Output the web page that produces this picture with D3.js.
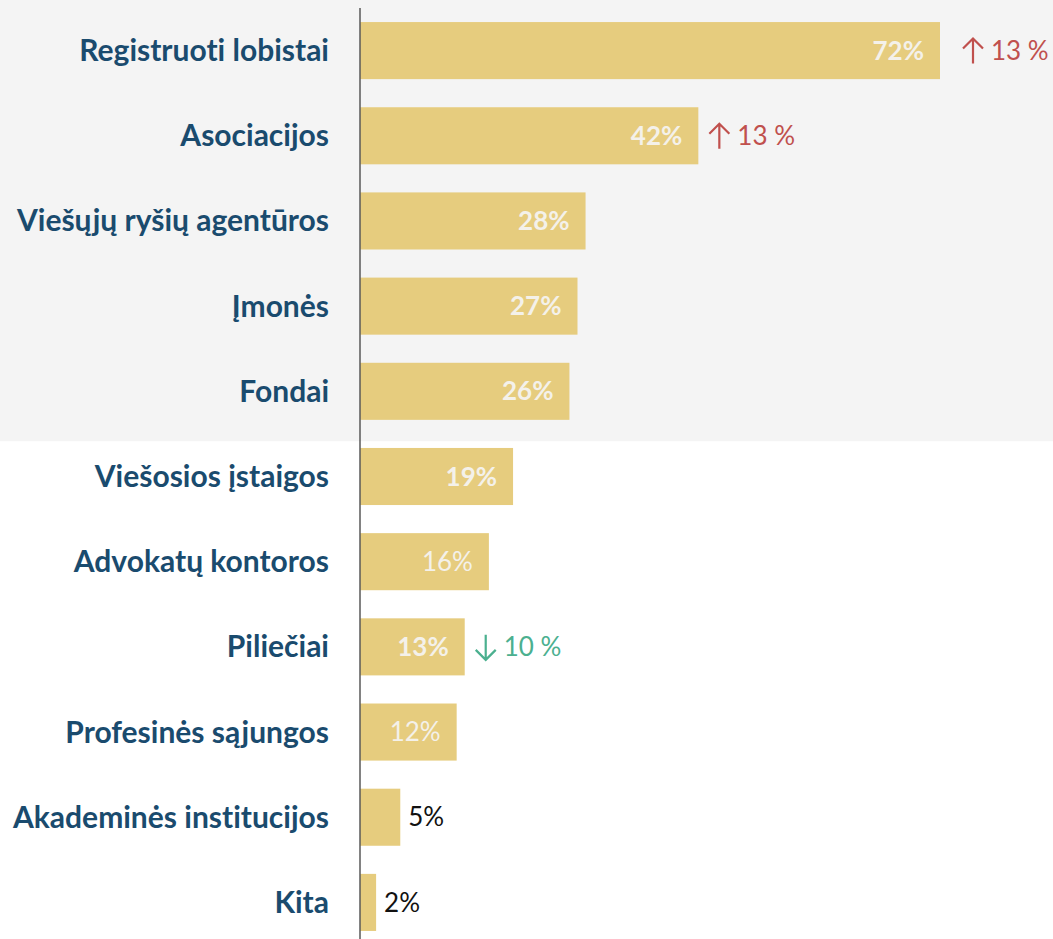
<!DOCTYPE html>
<head>
<meta charset="utf-8">
<style>
body { margin: 0; background: #fff; }
svg { display: block; }
text { font-variant-ligatures: none; font-feature-settings: "liga" 0; }
.cat { font-family: Lato, "Open Sans", sans-serif; font-weight: 700; fill: #1a4b6e; text-anchor: end; }
.pct { font-family: Lato, "Open Sans", sans-serif; }
.delta { font-family: Lato, "Open Sans", sans-serif; }
</style>
</head>
<body>
<svg width="1053" height="939"></svg>
<script src="https://cdn.jsdelivr.net/npm/d3@7"></script>
<script>

var categories = ["Registruoti lobistai", "Asociacijos", "Viešųjų ryšių agentūros", "Įmonės", "Fondai",
                  "Viešosios įstaigos", "Advokatų kontoros", "Piliečiai", "Profesinės sąjungos",
                  "Akademinės institucijos", "Kita"];
var values = [72, 42, 28, 27, 26, 19, 16, 13, 12, 5, 2];
var boldLabels = [true, true, true, true, true, true, false, true, false, false, false];
var highlighted = ["Registruoti lobistai", "Asociacijos", "Viešųjų ryšių agentūros", "Įmonės", "Fondai"];

// change annotations
var deltaCats = ["Registruoti lobistai", "Asociacijos", "Piliečiai"];
var deltaValues = [13, 13, 10];
var deltaDirs = ["up", "up", "down"];

var svg = d3.select("svg"),
    width = +svg.attr("width"),
    height = +svg.attr("height");

var x = d3.scaleLinear()
    .domain([0, 72])
    .range([360, 940]);

var y = d3.scaleBand()
    .domain(categories)
    .range([8, 945])
    .paddingInner(0.33)
    .paddingOuter(0.165);

var gap = y.step() - y.bandwidth();

// grey panel behind the top group
var lastHi = highlighted[highlighted.length - 1];
svg.append("rect")
    .attr("x", 0).attr("y", 0)
    .attr("width", width)
    .attr("height", y(lastHi) + y.bandwidth() + gap * 0.76)
    .attr("fill", "#f4f4f4");

svg.selectAll("rect.bar")
  .data(values)
  .enter().append("rect")
    .attr("class", "bar")
    .attr("x", x(0))
    .attr("y", function(d, i) { return y(categories[i]); })
    .attr("width", function(d) { return x(d) - x(0); })
    .attr("height", y.bandwidth())
    .attr("fill", "#e6cc7e");

// axis line
svg.append("line")
    .attr("x1", x(0)).attr("x2", x(0))
    .attr("y1", 8).attr("y2", height)
    .attr("stroke", "#595959")
    .attr("stroke-width", 1.5);

svg.selectAll("text.cat")
  .data(categories)
  .enter().append("text")
    .attr("class", "cat")
    .attr("x", x(0) - 31)
    .attr("y", function(d) { return y(d) + y.bandwidth() / 2; })
    .attr("dy", "0.35em")
    .style("font-size", "30px")
    .text(function(d) { return d; });

svg.selectAll("text.pct")
  .data(values)
  .enter().append("text")
    .attr("class", "pct")
    .attr("x", function(d) { return d >= 10 ? x(d) - 16 : x(d) + 8; })
    .attr("y", function(d, i) { return y(categories[i]) + y.bandwidth() / 2; })
    .attr("dy", "0.35em")
    .attr("text-anchor", function(d) { return d >= 10 ? "end" : "start"; })
    .style("font-size", "26px")
    .style("font-weight", function(d, i) { return boldLabels[i] ? 700 : 400; })
    .attr("fill", function(d) { return d >= 10 ? "#f4f1ea" : "#111"; })
    .text(function(d) { return d + "%"; });

var deltas = deltaCats.map(function(c, i) {
  return { cat: c, value: deltaValues[i], dir: deltaDirs[i], v: values[categories.indexOf(c)] };
});

var dg = svg.selectAll("g.delta")
  .data(deltas)
  .enter().append("g")
    .attr("class", "delta")
    .attr("transform", function(d, i) {
      return "translate(" + (x(d.v) + (i === 0 ? 22 : 10)) + "," + (y(d.cat) + y.bandwidth() / 2) + ")";
    });

// thin arrows
dg.append("path")
    .attr("d", function(d) {
      return d.dir === "up"
        ? "M11,-12 L11,13 M1,-2 L11,-12 L21,-2"
        : "M11,-12 L11,13 M1,3 L11,13 L21,3";
    })
    .attr("fill", "none")
    .attr("stroke-width", 2.2)
    .attr("stroke", function(d) { return d.dir === "up" ? "#c0504d" : "#4bb08f"; });

dg.append("text")
    .attr("x", 29)
    .attr("dy", "0.35em")
    .style("font-size", "26px")
    .attr("fill", function(d) { return d.dir === "up" ? "#c0504d" : "#4bb08f"; })
    .text(function(d) { return d.value + " %"; });

</script>
</body>
